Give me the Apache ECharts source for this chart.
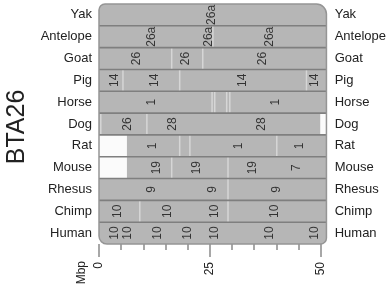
<!DOCTYPE html>
<html>
<head>
<meta charset="utf-8">
<script src="https://cdn.jsdelivr.net/npm/echarts@6/dist/echarts.min.js"></script>
<style>
html, body { margin: 0; padding: 0; background: #fff; }
#chart { width: 389px; height: 294px; }
</style>
</head>
<body>
<div id="chart"></div>
<script>
// rows, top to bottom
var species = ['Yak', 'Antelope', 'Goat', 'Pig', 'Horse', 'Dog', 'Rat', 'Mouse', 'Rhesus', 'Chimp', 'Human'];

// chromosome labels in each row: [Mbp, label]
var yakLabels = [[25.5, '26a']];
var antelopeLabels = [[11.9, '26a'], [24.8, '26a'], [38.5, '26a']];
var goatLabels = [[8.6, '26'], [19.6, '26'], [36.9, '26']];
var pigLabels = [[3.6, '14'], [12.6, '14'], [32.4, '14'], [48.6, '14']];
var horseLabels = [[11.9, '1'], [39.9, '1']];
var dogLabels = [[6.5, '26'], [16.7, '28'], [36.7, '28']];
var ratLabels = [[12.2, '1'], [31.5, '1'], [45.3, '1']];
var mouseLabels = [[13.1, '19'], [22.1, '19'], [34.7, '19'], [44.6, '7']];
var rhesusLabels = [[11.9, '9'], [25.7, '9'], [40.1, '9']];
var chimpLabels = [[4.3, '10'], [15.5, '10'], [26.1, '10'], [39.6, '10']];
var humanLabels = [[3.6, '10'], [6.5, '10'], [13.3, '10'], [20.0, '10'], [26.1, '10'], [38.5, '10'], [48.6, '10']];

// segment breaks in each row (Mbp)
var antelopeBreaks = [25.7];
var goatBreaks = [16.4, 23.4];
var pigBreaks = [5.4, 18.2, 46.8];
var horseBreaks = [25.5, 26.1, 28.8, 29.5];
var dogBreaks = [0.4, 10.8];
var ratBreaks = [18.2, 20.5, 40.1];
var mouseBreaks = [16.4, 29.1];
var rhesusBreaks = [29.1];
var chimpBreaks = [9.2, 29.1];

// unaligned stretches: [row, from, to]
var blanks = [['Dog', 49.9, 51.3], ['Rat', 0, 6.3], ['Mouse', 0, 6.3]];

var panelEnd = 51.3;

var rowLabels = [yakLabels, antelopeLabels, goatLabels, pigLabels, horseLabels, dogLabels,
  ratLabels, mouseLabels, rhesusLabels, chimpLabels, humanLabels];
var rowBreaks = [[], antelopeBreaks, goatBreaks, pigBreaks, horseBreaks, dogBreaks,
  ratBreaks, mouseBreaks, rhesusBreaks, chimpBreaks, []];

var labelData = [];
var breakData = [];
species.forEach(function (s, i) {
  rowLabels[i].forEach(function (l) { labelData.push([l[0], i, l[1]]); });
  rowBreaks[i].forEach(function (b) { breakData.push([b, i]); });
});
var blankData = blanks.map(function (b) { return [b[1], b[2], species.indexOf(b[0])]; });

var font = '"Liberation Sans", Arial, sans-serif';
var panelFill = '#b6b6b6';
var lineGray = '#7f7f7f';

function panelBox(api) {
  var band = api.size([0, 1])[1];
  var a = api.coord([0, 0]);
  var b = api.coord([panelEnd, species.length - 1]);
  return { x: a[0], y: a[1] - band / 2, width: b[0] - a[0], height: b[1] - a[1] + band, band: band };
}

var chart = echarts.init(document.getElementById('chart'));
chart.setOption({
  animation: false,
  grid: { left: 99, right: 68, top: 4, bottom: 50 },
  xAxis: {
    type: 'value',
    min: 0,
    max: 50,
    interval: 25,
    axisLine: { show: false },
    axisTick: { show: true, length: 13, lineStyle: { color: '#8a8a8a', width: 1.5 } },
    minorTick: { show: true, splitNumber: 5, length: 6, lineStyle: { color: '#8a8a8a', width: 1.5 } },
    splitLine: { show: false },
    axisLabel: { rotate: 90, margin: 18, fontSize: 12, color: '#222', fontFamily: font }
  },
  yAxis: [
    {
      type: 'category',
      data: species,
      inverse: true,
      axisLine: { show: false },
      axisTick: { show: false },
      axisLabel: { margin: 7, fontSize: 13, color: '#222', fontFamily: font }
    },
    {
      type: 'category',
      data: species,
      inverse: true,
      position: 'right',
      axisLine: { show: false },
      axisTick: { show: false },
      axisLabel: { margin: 14, fontSize: 13, color: '#222', fontFamily: font }
    }
  ],
  graphic: [
    {
      type: 'text', x: 17, y: 127, rotation: Math.PI / 2,
      style: { text: 'BTA26', align: 'center', verticalAlign: 'middle', fontSize: 25, fill: '#222', fontFamily: font }
    },
    {
      type: 'text', x: 82, y: 261, rotation: Math.PI / 2,
      style: { text: 'Mbp', align: 'right', verticalAlign: 'middle', fontSize: 12, fill: '#222', fontFamily: font }
    }
  ],
  series: [
    {
      // grey panel
      type: 'custom',
      clip: false,
      z: 1,
      data: [[0]],
      renderItem: function (params, api) {
        var p = panelBox(api);
        return {
          type: 'rect',
          shape: { x: p.x, y: p.y, width: p.width, height: p.height, r: [6, 10, 6, 8] },
          style: { fill: panelFill }
        };
      }
    },
    {
      // white unaligned stretches
      type: 'custom',
      clip: false,
      z: 2,
      data: blankData,
      renderItem: function (params, api) {
        var band = api.size([0, 1])[1];
        var a = api.coord([api.value(0), api.value(2)]);
        var b = api.coord([api.value(1), api.value(2)]);
        return {
          type: 'rect',
          shape: { x: a[0], y: a[1] - band / 2, width: b[0] - a[0], height: band },
          style: { fill: '#fbfbfb' }
        };
      }
    },
    {
      // segment breaks
      type: 'custom',
      clip: false,
      z: 3,
      data: breakData,
      renderItem: function (params, api) {
        var band = api.size([0, 1])[1];
        var c = api.coord([api.value(0), api.value(1)]);
        return {
          type: 'line',
          shape: { x1: c[0], y1: c[1] - band / 2, x2: c[0], y2: c[1] + band / 2 },
          style: { stroke: '#d6d6d6', lineWidth: 1.5 }
        };
      }
    },
    {
      // row separators and border
      type: 'custom',
      clip: false,
      z: 4,
      data: [[0]],
      renderItem: function (params, api) {
        var p = panelBox(api);
        var kids = [];
        for (var i = 1; i < species.length; i++) {
          var y = p.y + i * p.band;
          kids.push({
            type: 'line',
            shape: { x1: p.x, y1: y, x2: p.x + p.width, y2: y },
            style: { stroke: lineGray, lineWidth: 1.6 }
          });
        }
        kids.push({
          type: 'rect',
          shape: { x: p.x, y: p.y, width: p.width, height: p.height, r: [6, 10, 6, 8] },
          style: { fill: null, stroke: '#959595', lineWidth: 1.5 }
        });
        return { type: 'group', children: kids };
      }
    },
    {
      // chromosome numbers
      type: 'scatter',
      z: 5,
      symbolSize: 0,
      data: labelData,
      encode: { x: 0, y: 1 },
      label: {
        show: true,
        position: 'inside',
        rotate: 90,
        fontSize: 12,
        color: '#111',
        fontFamily: font,
        formatter: function (p) { return p.data[2]; }
      }
    }
  ]
});
</script>
</body>
</html>
